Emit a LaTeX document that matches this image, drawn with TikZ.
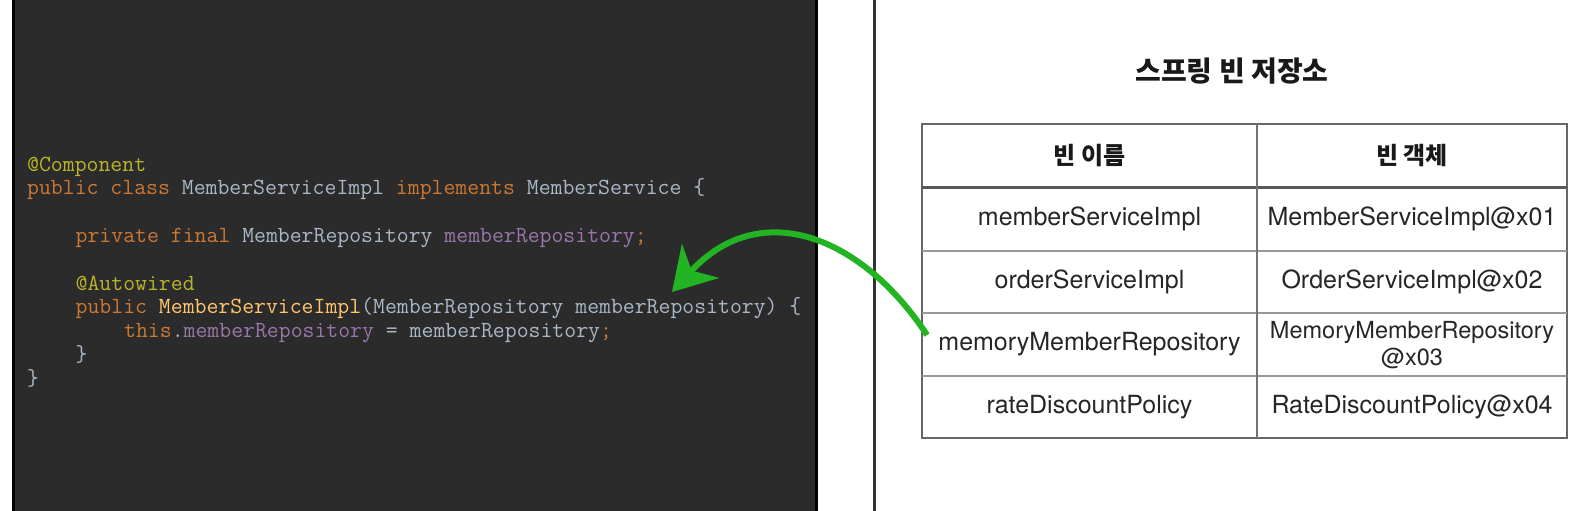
\documentclass[tikz,border=0pt]{standalone}
\usepackage{fontspec}
\newfontfamily\krfont{Noto Sans CJK KR}
\newfontfamily\cellfont{TeX Gyre Heros}
\usepackage{tikz}
\usetikzlibrary{arrows.meta}
\definecolor{darcbg}{HTML}{2B2B2B}
\definecolor{kwcol}{HTML}{CC7832}
\definecolor{anncol}{HTML}{BBB529}
\definecolor{idcol}{HTML}{A9B7C6}
\definecolor{fldcol}{HTML}{9876AA}
\definecolor{mthcol}{HTML}{FFC66D}
\definecolor{wiregreen}{HTML}{22B422}
\newcommand{\kw}[1]{\textcolor{kwcol}{#1}}
\newcommand{\fld}[1]{\textcolor{fldcol}{#1}}

\begin{document}
\begin{tikzpicture}[x=1pt,y=-1pt,
    codeline/.style={anchor=base west, inner sep=0pt, text=idcol, font=\fontsize{23.1}{24}\selectfont\ttfamily},
    cell/.style={inner sep=0pt, text=black!85, font=\fontsize{25}{28}\selectfont\cellfont},
    headcell/.style={inner sep=0pt, text=black!90, font=\fontsize{24}{28}\selectfont\krfont\bfseries}]
    \useasboundingbox (0,0) rectangle (1592,511);
    \fill[white] (0,0) rectangle (1592,511);
    \clip (0,0) rectangle (1592,511);
    % code panel
    \draw[line width=3pt, fill=darcbg] (13,-10) rectangle (816,521);
    \draw[line width=3pt, black!80] (874,-10) -- (874,521);
    \node[codeline] (c0) at (27,171) {\textcolor{anncol}{@Component}};
    \node[codeline] (c1) at (27,194.8) {\kw{public class} MemberServiceImpl \kw{implements} MemberService \{};
    \node[codeline] (c3) at (75.5,242.4) {\kw{private final} MemberRepository \fld{memberRepository}\kw{;}};
    \node[codeline] (c5) at (75.5,290) {\textcolor{anncol}{@Autowired}};
    \node[codeline] (c6) at (75.5,313.8) {\kw{public} \textcolor{mthcol}{MemberServiceImpl}(MemberRepository memberRepository) \{};
    \node[codeline] (c7) at (124,337.6) {\kw{this}.\fld{memberRepository} = memberRepository\kw{;}};
    \node[codeline] (c8) at (75.5,361.4) {\}};
    \node[codeline] (c9) at (27,385.2) {\}};
    % bean table
    \node[headcell, font=\fontsize{28}{30}\selectfont\krfont\bfseries] (title) at (1232,71) {스프링 빈 저장소};
    \draw[line width=2pt, black!60] (922,124) rectangle (1567,438);
    \draw[line width=3pt, black!65] (922,187) -- (1567,187);
    \foreach \y in {251,313,376} {\draw[line width=1.5pt, black!40] (922,\y) -- (1567,\y);}
    \draw[line width=1.5pt, black!55] (1257,124) -- (1257,438);
    \node[headcell] (hname) at (1089.5,155.5) {빈 이름};
    \node[headcell] (hobj) at (1412,155.5) {빈 객체};
    \node[cell] (n1) at (1089.5,219) {memberServiceImpl}; \node[cell] (o1) at (1412,219) {MemberServiceImpl@x01};
    \node[cell] (n2) at (1089.5,282) {orderServiceImpl}; \node[cell] (o2) at (1412,282) {OrderServiceImpl@x02};
    \node[cell] (n3) at (1089.5,344.5) {memoryMemberRepository};
    \node[cell, align=center, font=\fontsize{23.5}{27}\selectfont\cellfont] (o3) at (1412,345) {MemoryMemberRepository\\@x03};
    \node[cell] (n4) at (1089.5,407) {rateDiscountPolicy}; \node[cell] (o4) at (1412,407) {RateDiscountPolicy@x04};
    % injection arrow
    \coordinate (src) at (927,335); \coordinate (tgt) at (672,292);
    \draw[wiregreen, line width=6pt, -{Stealth[length=42pt,width=50pt,inset=13pt]}] (src) .. controls (862,236) and (760,196) .. (tgt);
\end{tikzpicture}
\end{document}
